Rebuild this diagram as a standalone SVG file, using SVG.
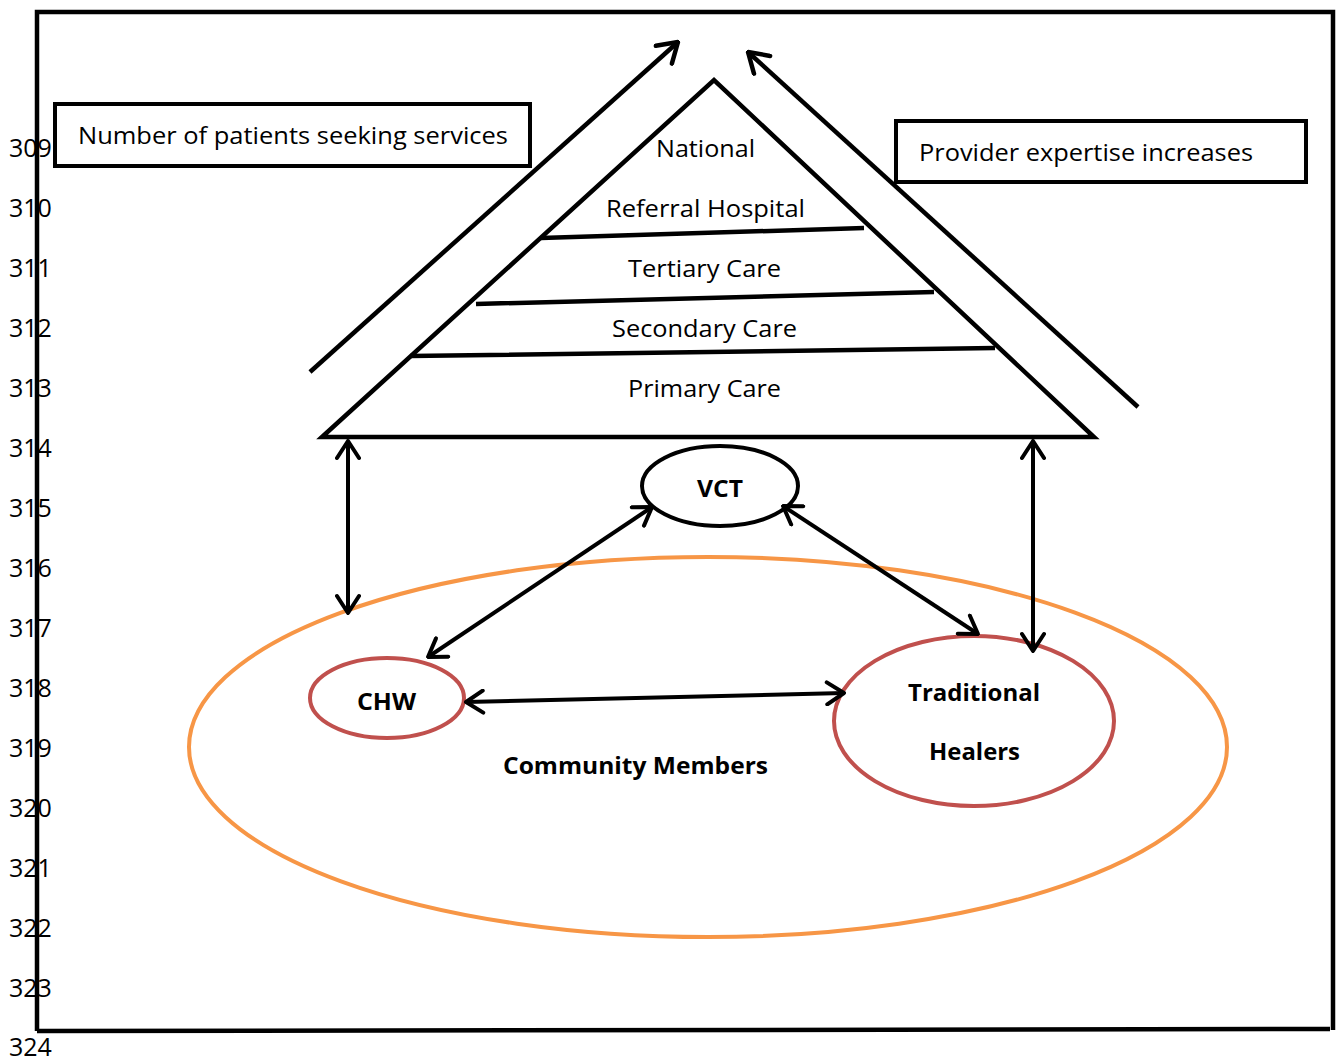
<svg xmlns="http://www.w3.org/2000/svg" width="1337" height="1061" viewBox="0 0 1337 1061">
<defs>
<marker id="ah" viewBox="0 0 22 26" refX="20" refY="13" markerWidth="22" markerHeight="26" markerUnits="userSpaceOnUse" orient="auto-start-reverse">
<path d="M3,2 L20,13 L3,24" fill="none" stroke="#000" stroke-width="4" stroke-linecap="round" stroke-linejoin="round"/>
</marker>
<marker id="ahb" viewBox="0 0 24 28" refX="22" refY="14" markerWidth="24" markerHeight="28" markerUnits="userSpaceOnUse" orient="auto-start-reverse">
<path d="M3,2 L22,14 L3,26" fill="none" stroke="#000" stroke-width="4.5" stroke-linecap="round" stroke-linejoin="round"/>
</marker>
</defs>
<style>
.t{font-family:"Open Sans","Liberation Sans",sans-serif;font-size:23px;fill:#000}
.b{font-family:"Open Sans","Liberation Sans",sans-serif;font-size:23px;font-weight:bold;fill:#000}
.ln{fill:none;stroke:#000;stroke-width:4.5}
.num{font-family:"Open Sans","Liberation Sans",sans-serif;font-size:25px;fill:#000}
.con{fill:none;stroke:#000;stroke-width:4;marker-start:url(#ah);marker-end:url(#ah)}
</style>
<rect width="1337" height="1061" fill="#fff"/>
<g id="line-numbers">
<text class="num" x="9" y="157">309</text>
<text class="num" x="9" y="217">310</text>
<text class="num" x="9" y="277">311</text>
<text class="num" x="9" y="337">312</text>
<text class="num" x="9" y="397">313</text>
<text class="num" x="9" y="457">314</text>
<text class="num" x="9" y="517">315</text>
<text class="num" x="9" y="577">316</text>
<text class="num" x="9" y="637">317</text>
<text class="num" x="9" y="697">318</text>
<text class="num" x="9" y="757">319</text>
<text class="num" x="9" y="817">320</text>
<text class="num" x="9" y="877">321</text>
<text class="num" x="9" y="937">322</text>
<text class="num" x="9" y="997">323</text>
<text class="num" x="9" y="1056">324</text>
</g>
<g id="frame">
<path class="ln" d="M37,1031 L37,12 L1333,12 L1333,1030 M37,1031 L1330,1029"/>
</g>
<g id="patients-box">
<rect x="55" y="104" width="475" height="62" fill="#fff" stroke="#000" stroke-width="4"/>
<text class="t" x="78" y="144" textLength="430" lengthAdjust="spacingAndGlyphs">Number of patients seeking services</text>
</g>
<g id="expertise-box">
<rect x="896" y="121" width="410" height="61" fill="#fff" stroke="#000" stroke-width="4"/>
<text class="t" x="919" y="161" textLength="334" lengthAdjust="spacingAndGlyphs">Provider expertise increases</text>
</g>
<g id="pyramid">
<path class="ln" d="M322,437 L714,80 L1094,437 Z" stroke-linejoin="miter"/>
<path class="ln" d="M541,238 L864,228 M476,304 L934,292 M410,356 L995,348"/>
<text class="t" x="656" y="157" textLength="99" lengthAdjust="spacingAndGlyphs">National</text>
<text class="t" x="606" y="217" textLength="199" lengthAdjust="spacingAndGlyphs">Referral Hospital</text>
<text class="t" x="628" y="277" textLength="153" lengthAdjust="spacingAndGlyphs">Tertiary Care</text>
<text class="t" x="612" y="337" textLength="185" lengthAdjust="spacingAndGlyphs">Secondary Care</text>
<text class="t" x="628" y="397" textLength="153" lengthAdjust="spacingAndGlyphs">Primary Care</text>
</g>
<g id="community">
<ellipse cx="708" cy="747" rx="519" ry="190" fill="none" stroke="#f79646" stroke-width="4"/>
<text class="b" x="503" y="774" textLength="265" lengthAdjust="spacingAndGlyphs">Community Members</text>
</g>
<g id="vct">
<ellipse cx="720" cy="486" rx="78" ry="40" fill="#fff" stroke="#000" stroke-width="4"/>
<text class="b" x="697" y="497" textLength="46" lengthAdjust="spacingAndGlyphs">VCT</text>
</g>
<g id="chw">
<ellipse cx="387" cy="698" rx="77" ry="40" fill="#fff" stroke="#c0504d" stroke-width="4"/>
<text class="b" x="357" y="710" textLength="59" lengthAdjust="spacingAndGlyphs">CHW</text>
</g>
<g id="healers">
<ellipse cx="974" cy="721" rx="140" ry="85" fill="#fff" stroke="#c0504d" stroke-width="4"/>
<text class="b" x="908" y="701" textLength="132" lengthAdjust="spacingAndGlyphs">Traditional</text>
<text class="b" x="929" y="760" textLength="91" lengthAdjust="spacingAndGlyphs">Healers</text>
</g>
<g id="connectors">
<line x1="310" y1="372" x2="678" y2="42" style="fill:none;stroke:#000;stroke-width:4.5;marker-end:url(#ahb)"/>
<line x1="1138" y1="407" x2="748" y2="52" style="fill:none;stroke:#000;stroke-width:4.5;marker-end:url(#ahb)"/>
<line class="con" x1="348" y1="441" x2="348" y2="613"/>
<line class="con" x1="1033" y1="441" x2="1033" y2="651"/>
<line class="con" x1="652" y1="507" x2="428" y2="657"/>
<line class="con" x1="783" y1="506" x2="978" y2="634"/>
<line class="con" x1="466" y1="702" x2="844" y2="693"/>
</g>
</svg>
